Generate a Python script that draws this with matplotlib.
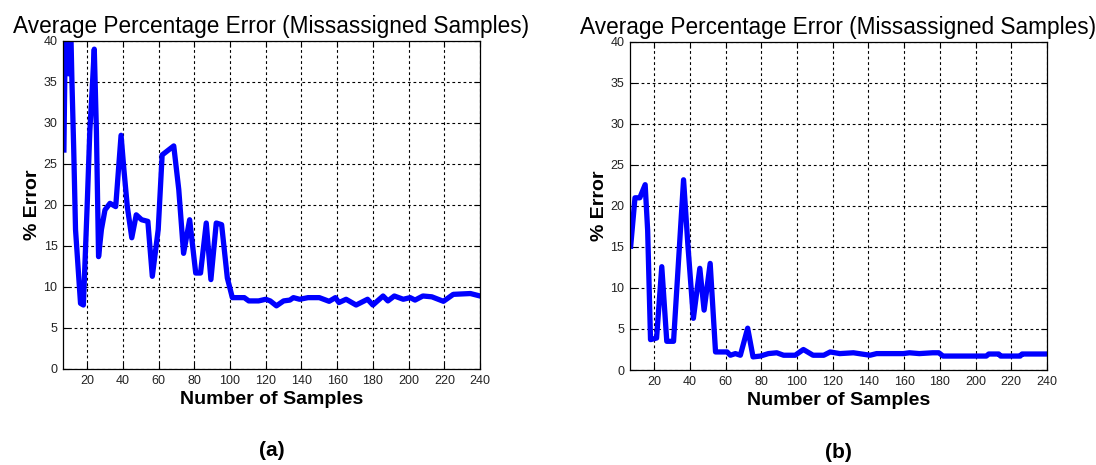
import matplotlib
matplotlib.use("Agg")
import matplotlib.pyplot as plt
import numpy as np

# panel (a) readings
xa = [7, 8, 9.5, 10.5, 11.5, 12.5, 13.5, 16.3, 17.9, 20, 21.5, 22.8, 24, 25.2, 26.4, 28, 30,
      32.8, 36, 39, 40.6, 42.5, 45, 47.5, 50.5, 54, 56.5, 59.8, 62, 68.5, 71.3, 74, 77.4,
      80.8, 83.5, 86.7, 89.3, 92.3, 95.3, 98.5, 101.3, 104, 108, 110.5, 116, 120, 122.5,
      126, 130, 133.5, 135.5, 139, 143.7, 150, 155.5, 159, 161, 165, 170.6, 177, 180,
      185.7, 188.4, 192, 197, 200.9, 203.6, 208, 213, 219.5, 225, 234.6, 240]
ya = [26.7, 45, 36, 45, 35, 26.7, 17, 8.0, 7.8, 19.8, 29, 34, 39, 29, 13.7, 17, 19.4,
      20.2, 19.8, 28.5, 24.3, 19.8, 16, 18.8, 18.2, 18, 11.3, 17, 26.1, 27.2, 21.9, 14.1, 18.2,
      11.7, 11.7, 17.8, 10.9, 17.8, 17.6, 11.1, 8.7, 8.7, 8.7, 8.3, 8.3, 8.5, 8.3,
      7.7, 8.3, 8.4, 8.7, 8.5, 8.7, 8.7, 8.25, 8.7, 8.1, 8.5, 7.8, 8.5, 7.8,
      8.9, 8.3, 8.9, 8.5, 8.7, 8.4, 8.9, 8.8, 8.25, 9.1, 9.2, 8.9]

# panel (b) readings
xb = [6.9, 9.3, 12, 15, 16.4, 18, 21.4, 24.3, 27.1, 30.9, 36.5, 39, 42, 45.6, 48, 51.4,
      54.4, 60.9, 62.7, 65.5, 68.3, 72.4, 75.4, 79.5, 84, 88.7, 92.5, 99, 103.6, 109, 115,
      118.6, 124, 131.6, 140.9, 144.6, 159.5, 163, 168.5, 176, 179.4, 181.8, 196.9, 206,
      207.4, 213, 214, 225, 226, 240]
yb = [15.1, 21, 21, 22.6, 17, 3.7, 3.9, 12.6, 3.5, 3.5, 23.2, 15, 6.3, 12.4, 7.3, 13,
      2.2, 2.2, 1.8, 2.0, 1.8, 5.1, 1.6, 1.7, 2.0, 2.1, 1.8, 1.8, 2.5, 1.8, 1.8,
      2.2, 2.0, 2.1, 1.8, 2.0, 2.0, 2.1, 2.0, 2.1, 2.1, 1.7, 1.7, 1.7,
      1.95, 1.95, 1.7, 1.7, 1.95, 1.95]

title = "Average Percentage Error (Missassigned Samples)"
xticks = np.arange(20, 241, 20)
yticks = np.arange(0, 41, 5)

plt.rcParams['font.family'] = ['Liberation Sans', 'DejaVu Sans']

fig = plt.figure(figsize=(10.96, 4.65), dpi=100)
panels = [(xa, ya, "(a)", [0.0575, 0.2065, 0.3805, 0.7054]),
          (xb, yb, "(b)", [0.5748, 0.2043, 0.3805, 0.7054])]

for x, y, tag, pos in panels:
    ax = fig.add_axes(pos)
    ax.plot(x, y, color=(0, 0, 1), lw=3.8, solid_joinstyle='round')
    ax.set_xlim(6.5, 240)
    ax.set_ylim(0, 40)
    ax.set_xticks(xticks)
    ax.set_yticks(yticks)
    ax.grid(True, color='black', linestyle=(0, (2.5, 2.5)), linewidth=0.8)
    ax.tick_params(direction='in', top=True, right=True, labelsize=9, length=4, pad=4,
                   labelcolor='#222222')
    for s in ax.spines.values():
        s.set_linewidth(0.9)
    ax.set_title(title, fontsize=16.3, pad=6)
    ax.set_ylabel("% Error", fontsize=14, fontweight='bold', labelpad=2)
    ax.set_xlabel("Number of Samples", fontsize=14, fontweight='bold', labelpad=3)
    ax.text(0.5, -0.25, tag, transform=ax.transAxes, ha='center', va='center',
            fontsize=15, fontweight='bold')

fig.savefig("out.png", dpi=100)
